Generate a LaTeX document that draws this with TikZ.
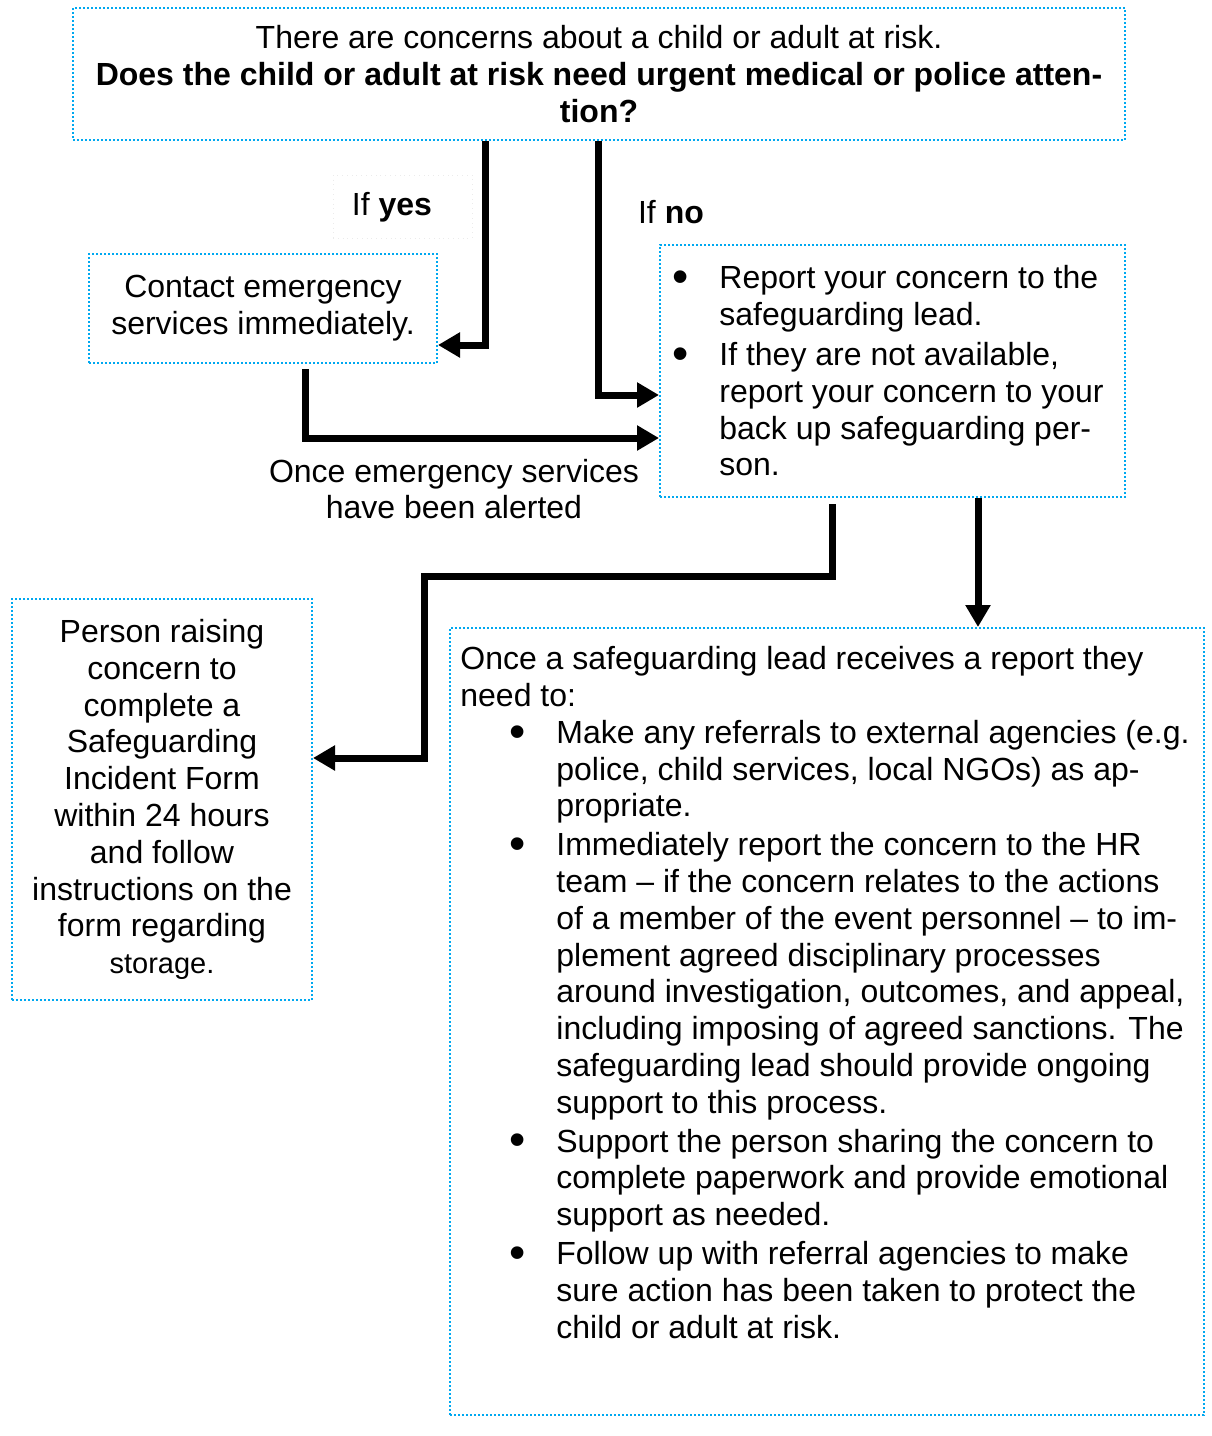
\documentclass[tikz,border=0pt]{standalone}
\usepackage{fontspec}
\setmainfont{Liberation Sans}
\usetikzlibrary{arrows.meta}
\definecolor{dotblue}{RGB}{0,168,240}
\newcommand{\bulletmark}{\makebox[23.5pt][l]{\raisebox{-1.9pt}{\scalebox{1.45}{\textbullet}}}}
\newcommand{\bulletskip}{\hspace*{23.5pt}}
\newcommand{\outerskip}{\hspace*{24.5pt}}
\begin{document}
\begin{tikzpicture}[x=0.5pt, y=-0.5pt, >={Triangle[length=11pt,width=12pt]},
  every node/.style={font=\fontsize{16}{18.4}\selectfont},
  box/.style={draw=dotblue, line width=1pt, dash pattern=on 1pt off 1pt, inner sep=0pt},
  arr/.style={->, line width=3.5pt}]
\useasboundingbox (0,0) rectangle (1211,1436);
\node[box, minimum width=526pt, minimum height=66pt, align=center] (top) at (599,74)
  {There are concerns about a child or adult at risk.\\
   \textbf{Does the child or adult at risk need urgent medical or police atten-}\\
   \textbf{tion?}};
\node[box, minimum width=174pt, minimum height=54.5pt, align=center] (contact) at (263,308.5)
  {Contact emergency\\ services immediately.};
\node[box, minimum width=232.5pt, minimum height=126pt] (report) at (892.5,371) {};
\node[anchor=west, align=left, inner sep=0pt] (reporttext) at ([xshift=6.5pt]report.west)
  {\bulletmark Report your concern to the\\
   \bulletskip safeguarding lead.\\[1.5pt]
   \bulletmark If they are not available,\\
   \bulletskip report your concern to your\\
   \bulletskip back up safeguarding per-\\
   \bulletskip son.};
\node[box, minimum width=150pt, minimum height=200.5pt, align=center] (person) at (162,799.5)
  {Person raising\\ concern to\\ complete a\\ Safeguarding\\ Incident Form\\ within 24 hours\\
   and follow\\ instructions on the\\ form regarding\\ {\fontsize{14.5}{18.4}\selectfont storage.}};
\node[box, minimum width=377pt, minimum height=393.5pt] (big) at (827,1021.5) {};
\node[anchor=north west, align=left, inner sep=0pt] (bigtext) at ([xshift=5.5pt, yshift=-9.5pt]big.north west)
  {Once a safeguarding lead receives a report they\\
   need to:\\
   \outerskip\bulletmark Make any referrals to external agencies (e.g.\\
   \outerskip\bulletskip police, child services, local NGOs) as ap-\\
   \outerskip\bulletskip propriate.\\[1pt]
   \outerskip\bulletmark Immediately report the concern to the HR\\
   \outerskip\bulletskip team – if the concern relates to the actions\\
   \outerskip\bulletskip of a member of the event personnel – to im-\\
   \outerskip\bulletskip plement agreed disciplinary processes\\
   \outerskip\bulletskip around investigation, outcomes, and appeal,\\
   \outerskip\bulletskip including imposing of agreed sanctions. The\\
   \outerskip\bulletskip safeguarding lead should provide ongoing\\
   \outerskip\bulletskip support to this process.\\[1pt]
   \outerskip\bulletmark Support the person sharing the concern to\\
   \outerskip\bulletskip complete paperwork and provide emotional\\
   \outerskip\bulletskip support as needed.\\[1pt]
   \outerskip\bulletmark Follow up with referral agencies to make\\
   \outerskip\bulletskip sure action has been taken to protect the\\
   \outerskip\bulletskip child or adult at risk.};
\node[draw=black!8, dotted, minimum width=69.5pt, minimum height=31.5pt] (yesbox) at (402.5,206.5) {};
\node (yes) at (392,207) {If \textbf{yes}};
\node (no) at (671,212) {If \textbf{no}};
\node[align=center] (alerted) at (454,489) {Once emergency services\\ have been alerted};
\draw[arr] (top.south -| 485,0) |- (contact.east |- 0,345);
\draw[arr] (top.south -| 598,0) |- (report.west |- 0,395);
\draw[arr, shorten <=2.5pt] (contact.south -| 305,0) |- (report.west |- 0,438);
\draw[arr, shorten <=3pt] (report.south -| 832,0) |- (424,576) |- (person.east |- 0,758);
\draw[arr] (report.south -| 978,0) -- (big.north -| 978,0);
\end{tikzpicture}
\end{document}
